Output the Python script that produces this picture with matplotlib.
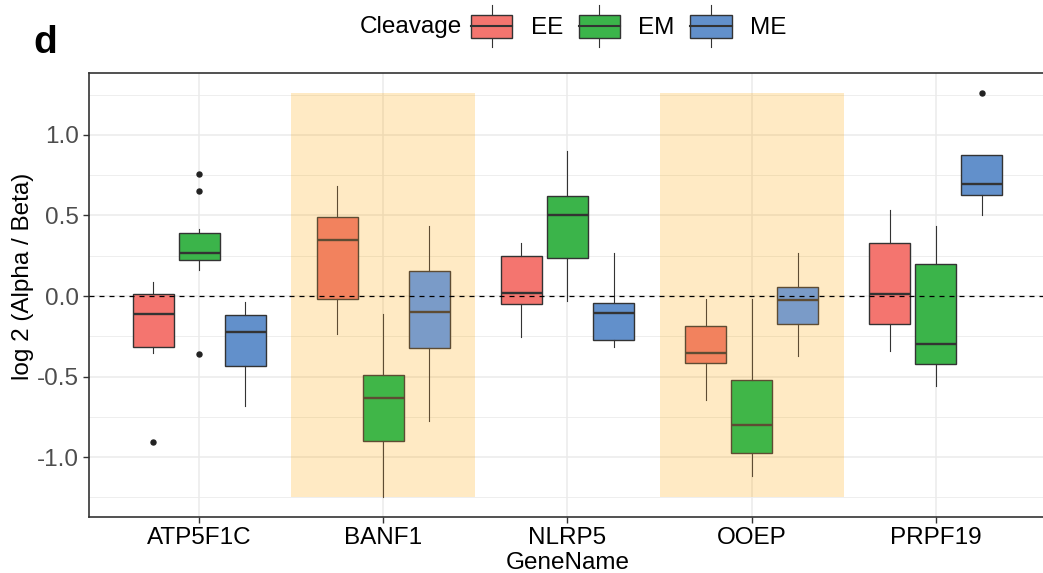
import numpy as np
import matplotlib.pyplot as plt
from matplotlib.patches import Rectangle
from matplotlib.lines import Line2D
from matplotlib.legend_handler import HandlerBase

plt.rcParams['font.family'] = ['Liberation Sans', 'DejaVu Sans']

# データ
genes = ['ATP5F1C', 'BANF1', 'NLRP5', 'OOEP', 'PRPF19']
groups = ['EE', 'EM', 'ME']
highlight = ['BANF1', 'OOEP']
colors = {'EE': '#F4756F', 'EM': '#3BB44A', 'ME': '#6290CB'}
# ハイライト領域内での見た目の色
colors_hl = {'EE': '#F2825E', 'EM': '#40B648', 'ME': '#7A9BC8'}

# (下ひげ, Q1, 中央値, Q3, 上ひげ, 外れ値) を遺伝子ごとに
ee_stats = [(-0.356, -0.315, -0.110, 0.010, 0.085, [-0.903]),
            (-0.238, -0.017, 0.348, 0.493, 0.683, []),
            (-0.255, -0.052, 0.021, 0.246, 0.331, []),
            (-0.642, -0.416, -0.352, -0.186, -0.021, []),
            (-0.340, -0.176, 0.015, 0.329, 0.532, [])]
em_stats = [(0.160, 0.224, 0.267, 0.391, 0.414, [0.756, 0.650, -0.360]),
            (-1.246, -0.897, -0.631, -0.491, -0.114, []),
            (-0.029, 0.234, 0.505, 0.621, 0.899, []),
            (-1.118, -0.971, -0.801, -0.518, -0.016, []),
            (-0.557, -0.420, -0.300, 0.201, 0.437, [])]
me_stats = [(-0.681, -0.433, -0.224, -0.120, -0.039, []),
            (-0.776, -0.325, -0.097, 0.155, 0.437, []),
            (-0.317, -0.275, -0.106, -0.046, 0.269, []),
            (-0.369, -0.176, -0.027, 0.054, 0.269, []),
            (0.501, 0.627, 0.696, 0.878, 0.878, [1.259])]
stats_by_group = {'EE': ee_stats, 'EM': em_stats, 'ME': me_stats}

edge = '#333333'
edge_hl = '#5E4C33'
offsets = [-0.25, 0.0, 0.25]
box_w = 0.225

fig = plt.figure(figsize=(10.43, 5.73), dpi=100)
ax = fig.add_axes([0.0853, 0.0977, 0.9176, 0.7749])

# グリッド
ax.set_axisbelow(True)
ax.set_yticks(np.arange(-1.25, 1.5, 0.25), minor=True)
ax.grid(True, which='major', color='#EBEBEB', lw=1.1)
ax.grid(True, which='minor', axis='y', color='#EBEBEB', lw=0.6)

all_vals = []
for gi, g in enumerate(groups):
    sl = stats_by_group[g]
    bstats = []
    for s in sl:
        lo, q1, med, q3, hi, fl = s
        bstats.append(dict(whislo=lo, q1=q1, med=med, q3=q3, whishi=hi, fliers=fl))
        all_vals += [lo, hi] + list(fl)
    pos = np.arange(1, len(genes) + 1) + offsets[gi]
    bp = ax.bxp(bstats, positions=pos, widths=box_w, patch_artist=True,
                showcaps=False, zorder=2,
                boxprops=dict(facecolor=colors[g], edgecolor=edge, lw=1.0),
                medianprops=dict(color=edge, lw=1.7),
                whiskerprops=dict(color=edge, lw=0.8),
                flierprops=dict(marker='o', markerfacecolor='#222222',
                                markeredgecolor='#222222', markersize=3.6))
    for gname in highlight:
        k = genes.index(gname)
        bp['boxes'][k].set_facecolor(colors_hl[g])
        bp['boxes'][k].set_edgecolor(edge_hl)
        bp['medians'][k].set_color(edge_hl)
        bp['whiskers'][2 * k].set_color(edge_hl)
        bp['whiskers'][2 * k + 1].set_color(edge_hl)

ymin, ymax = min(all_vals), max(all_vals)
r = ymax - ymin

# ハイライト領域
for g in highlight:
    i = genes.index(g) + 1
    ax.bar(i, ymax - ymin, bottom=ymin, width=1.0, color='orange',
           alpha=0.23, zorder=1, lw=0)

ax.axhline(0, color='black', ls=(0, (4, 4)), lw=0.9, zorder=4)

ax.set_xlim(0.4, len(genes) + 0.6)
ax.set_ylim(ymin - 0.05 * r, ymax + 0.05 * r)
ax.set_xticks(np.arange(1, len(genes) + 1))
ax.set_xticklabels(genes)
ax.set_yticks([-1.0, -0.5, 0.0, 0.5, 1.0])
ax.set_yticklabels(['-1.0', '-0.5', '0.0', '0.5', '1.0'])
ax.tick_params(axis='both', which='major', length=4, width=1, color='#333333',
               labelsize=17.5, pad=3)
ax.tick_params(axis='y', labelcolor='#4D4D4D')
ax.tick_params(axis='x', labelcolor='black')
ax.tick_params(which='minor', length=0)
for sp in ax.spines.values():
    sp.set_color('#333333')
    sp.set_linewidth(1.2)

ax.set_xlabel('GeneName', fontsize=17.5, labelpad=2)
ax.set_ylabel('log 2 (Alpha / Beta)', fontsize=17.5)
ax.yaxis.set_label_coords(-0.0575, 0.543)


# 凡例（箱ひげのキー）
class BoxKey(HandlerBase):
    def create_artists(self, legend, orig, xd, yd, w, h, fontsize, trans):
        x0, y0 = -xd, -yd
        cx, cy = x0 + w / 2, y0 + h / 2
        wl = Line2D([cx, cx], [cy - 0.9 * h, cy + 0.9 * h], color=edge, lw=0.8,
                    transform=trans)
        box = Rectangle((x0, y0), w, h, facecolor=orig.get_facecolor(),
                        edgecolor=edge, lw=1.0, transform=trans)
        md = Line2D([x0, x0 + w], [cy, cy], color=edge, lw=1.5, transform=trans)
        return [wl, box, md]


handles = [Rectangle((0, 0), 1, 1, facecolor=colors[g]) for g in groups]
fig.legend(handles, groups, handler_map={Rectangle: BoxKey()}, ncol=3,
           loc='center left', bbox_to_anchor=(471 / 1043, 1 - 27 / 573),
           frameon=False, fontsize=17.5, handlelength=1.7, handleheight=1.1,
           handletextpad=0.75, columnspacing=0.65, borderpad=0, borderaxespad=0)
fig.text(462 / 1043, 1 - 27 / 573, 'Cleavage', ha='right', va='center',
         fontsize=17.5)
fig.text(33 / 1043, 1 - 53 / 573, 'd', fontsize=28, fontweight='bold',
         va='baseline', ha='left')

fig.savefig('out.png', dpi=100)
